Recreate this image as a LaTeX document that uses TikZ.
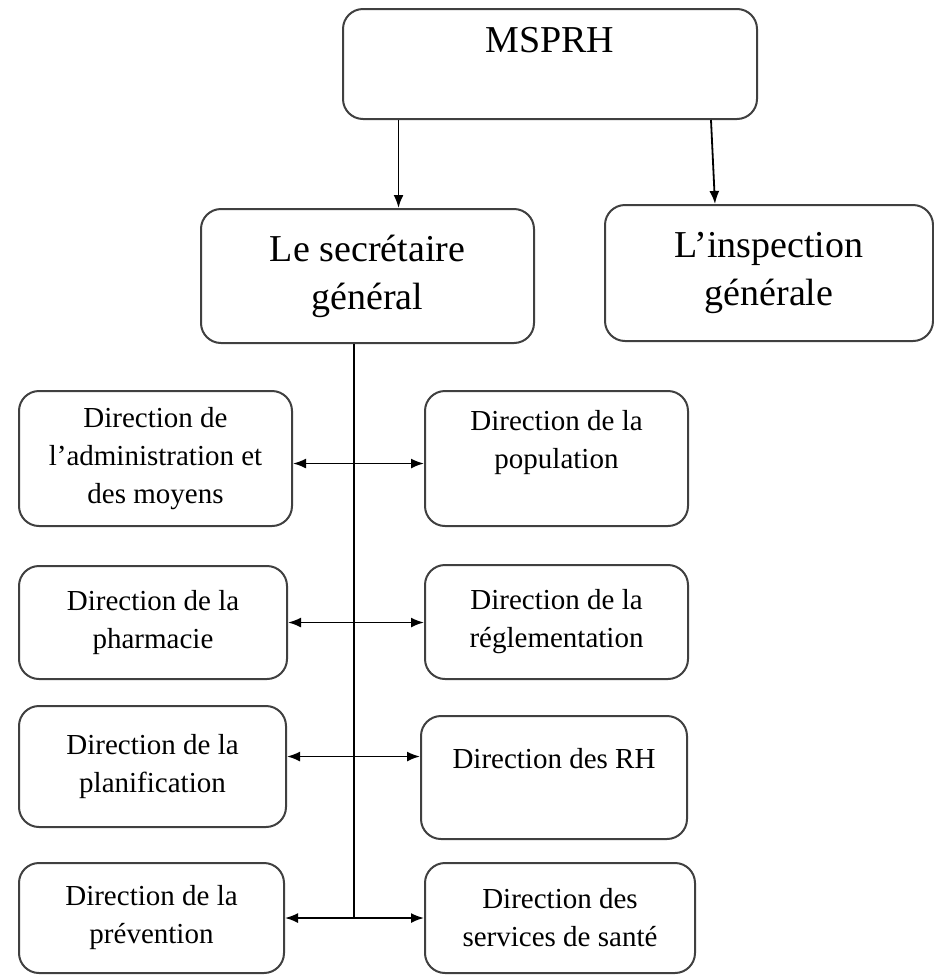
\documentclass[tikz,border=0pt]{standalone}
\usepackage{fontspec}
\setmainfont{Liberation Serif}
\usetikzlibrary{arrows.meta, calc}

\begin{document}
\begin{tikzpicture}[x=1pt, y=-1pt,
    box/.style={draw=black!75, line width=2pt, rounded corners=20pt, anchor=north west, align=center, inner sep=0pt},
    big/.style={font=\fontsize{38}{48}\selectfont},
    small/.style={font=\fontsize{29}{38}\selectfont},
    link/.style={line width=1.8pt, -{Latex[length=13pt,width=10pt]}},
    both/.style={line width=1.8pt, {Latex[length=13pt,width=10pt]}-{Latex[length=13pt,width=10pt]}}]
    \useasboundingbox (0,0) rectangle (934,975);

    % Top level
    \node[box, big, minimum width=414pt, minimum height=110pt] (ms) at (342,8) {MSPRH\\ \mbox{}};
    \node[box, big, minimum width=333pt, minimum height=134pt] (sg) at (200,208) {Le secrétaire\\général};
    \node[box, big, minimum width=328pt, minimum height=136pt] (ig) at (604,204) {L’inspection\\générale};

    % Left directions
    \node[box, small, minimum width=273pt, minimum height=135pt] (a1) at (18,390) {Direction de\\l’administration et\\des moyens};
    \node[box, small, minimum width=268pt, minimum height=113pt] (a2) at (18,565) {Direction de la\\pharmacie};
    \node[box, small, minimum width=267pt, minimum height=121pt] (a3) at (18,705) {Direction de la\\planification};
    \node[box, small, minimum width=265pt, minimum height=110pt] (a4) at (18,862) {Direction de la\\prévention};

    % Right directions
    \node[box, small, minimum width=263pt, minimum height=135pt] (b1) at (424,390) {Direction de la\\population\\ \mbox{}};
    \node[box, small, minimum width=263pt, minimum height=114pt] (b2) at (424,564) {Direction de la\\réglementation};
    \node[box, small, minimum width=266pt, minimum height=123pt] (b3) at (420,715) {Direction des RH\\ \mbox{}};
    \node[box, small, minimum width=270pt, minimum height=110pt] (b4) at (424,862) {Direction des\\services de santé};

    % Links from the ministry
    \draw[link] ([xshift=31pt]sg.north |- ms.south) -- ([xshift=31pt]sg.north);
    \draw[link] ([xshift=-58pt]ig.north |- ms.south) -- ([xshift=-54pt]ig.north);

    % Trunk and branches
    \coordinate (trunk) at ([xshift=-13.5pt]sg.south);
    \draw[line width=1.8pt] (trunk) -- (trunk |- a4.east);
    \draw[both] ([yshift=-5pt]a1.east) -- ([yshift=-5pt]a1.east -| b1.west);
    \draw[both] (a2.east) -- (a2.east -| b2.west);
    \draw[both] ([yshift=10pt]a3.east) -- ([yshift=10pt]a3.east -| b3.west);
    \draw[both] (a4.east) -- (a4.east -| b4.west);
\end{tikzpicture}
\end{document}
